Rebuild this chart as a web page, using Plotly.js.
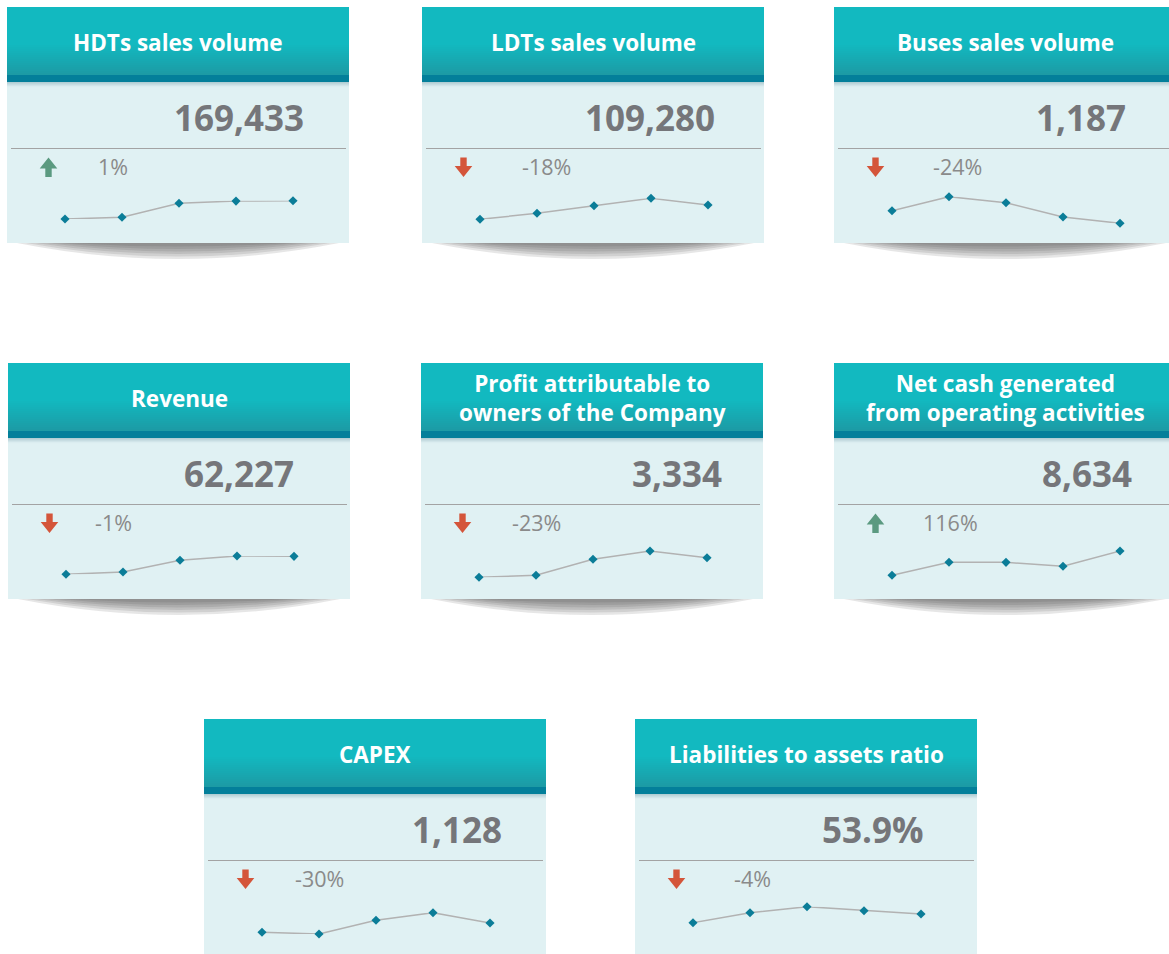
<!DOCTYPE html>
<html><head><meta charset="utf-8">
<script src="https://cdn.plot.ly/plotly-3.0.1.min.js"></script>
<style>html,body{margin:0;padding:0;background:#fff;}#chart{width:1169px;height:954px;}</style>
</head><body><div id="chart"></div>
<script>
// ---------------- DATA ----------------
const titles = [
  'HDTs sales volume',
  'LDTs sales volume',
  'Buses sales volume',
  'Revenue',
  'Profit attributable to<br>owners of the Company',
  'Net cash generated<br>from operating activities',
  'CAPEX',
  'Liabilities to assets ratio'
];
const headlines = ['169,433', '109,280', '1,187', '62,227', '3,334', '8,634', '1,128', '53.9%'];
const changes = [1, -18, -24, -1, -23, 116, -30, -4];   // percent change
const periods = [1, 2, 3, 4, 5];

const hdtSeries     = [96000, 102800, 159000, 167756, 169433];
const ldtSeries     = [58100, 79600, 106800, 133300, 109280];
const busSeries     = [1937, 2770, 2413, 1562, 1187];
const revenueSeries = [28000, 32400, 54700, 62856, 62227];
const profitSeries  = [420, 717, 3096, 4330, 3334];
const netCashSeries = [1271, 5240, 5190, 3997, 8634];
const capexSeries   = [692, 612, 1255, 1611, 1128];
const liabSeries    = [48.1, 54.8, 58.8, 56.1, 53.9];

const series = [hdtSeries, ldtSeries, busSeries, revenueSeries, profitSeries, netCashSeries, capexSeries, liabSeries];

// ---------------- LAYOUT (pixel geometry) ----------------
const W = 1169, H = 954;
const cardLeft = [7, 422, 834, 8, 421, 834, 204, 635];
const cardTop  = [7, 7, 7, 363, 363, 363, 719, 719];
const cardW = 342, cardH = 236, headH = 68, stripH = 7;
// sparkline vertical band (offset from card top: top of band, bottom of band)
const sparkBand = [[193.7,212],[191.3,212.3],[189.7,216.3],[193,211.3],[188,214.3],[188,212.3],[193.7,215],[187.7,203.7]];
const numRight = [299, 295, 294, 288, 303, 300, 300, 291];
const pctLeft  = [89, 98, 97, 85, 89, 87, 89, 97];

const teal = '#12b9c0', tealDark = '#1c9ba5', strip = '#037f9a', body = '#e0f1f3';

function hex2rgb(h){return [1,3,5].map(i=>parseInt(h.substr(i,2),16));}
function mix(a,b,t){const A=hex2rgb(a),B=hex2rgb(b);return 'rgb('+A.map((v,i)=>Math.round(v+(B[i]-v)*t)).join(',')+')';}

const shapes = [], annotations = [], traces = [];
const layout = {
  width: W, height: H,
  margin: {l:0, r:0, t:0, b:0},
  paper_bgcolor: '#ffffff', plot_bgcolor: 'rgba(0,0,0,0)',
  showlegend: false,
  xaxis: {range:[0,W], domain:[0,1], visible:false, fixedrange:true},
  yaxis: {range:[H,0], domain:[0,1], visible:false, fixedrange:true},
  shapes: shapes, annotations: annotations
};

function rect(x0,y0,x1,y1,color){
  shapes.push({type:'rect', xref:'x', yref:'y', x0:x0, x1:x1, y0:y0, y1:y1, fillcolor:color, line:{width:0}, layer:'below'});
}

for (let i = 0; i < titles.length; i++) {
  const L = cardLeft[i], T = cardTop[i], R = L + cardW, B = T + cardH;

  // shadow under the card
  const cx = (L + R) / 2;
  [[322,16],[304,13.5],[284,11],[262,8.5],[240,6],[218,3.5]].forEach(([w,d])=>{
    shapes.push({type:'path', xref:'x', yref:'y', layer:'below',
      path:`M ${cx-w/2},${B} Q ${cx},${B+2*d} ${cx+w/2},${B} Z`,
      fillcolor:'#3a3a3a', opacity:0.13, line:{width:0}});
  });

  // body
  rect(L, T+headH, R, B, body);
  // header base
  rect(L, T, R, T+headH, teal);
  // header gradient toward bottom
  const g0 = 38, steps = 15;
  for (let s = 0; s < steps; s++) {
    const y0 = T + g0 + s*(headH-g0)/steps, y1 = T + g0 + (s+1)*(headH-g0)/steps + 0.3;
    rect(L, y0, R, y1, mix(teal, tealDark, (s+1)/steps));
  }
  // dark strip
  rect(L, T+headH, R, T+headH+stripH, strip);
  // soft shadow under strip
  for (let s = 0; s < 5; s++) {
    rect(L, T+headH+stripH+s, R, T+headH+stripH+s+1.2, mix('#a8c6cd', body, (s+1)/5.5));
  }
  // divider line
  shapes.push({type:'line', xref:'x', yref:'y', x0:L+4, x1:L+339, y0:T+141.5, y1:T+141.5,
    line:{color:'#a3a3a3', width:1}, layer:'below'});

  // arrow
  const ax = L + 41.5, ay = T + 150.5;
  const up = changes[i] >= 0;
  let p;
  if (up) {
    p = `M ${ax},${ay} L ${ax+8.8},${ay+11} L ${ax+3.2},${ay+11} L ${ax+3.2},${ay+19.5} L ${ax-3.2},${ay+19.5} L ${ax-3.2},${ay+11} L ${ax-8.8},${ay+11} Z`;
  } else {
    p = `M ${ax-3.2},${ay} L ${ax+3.2},${ay} L ${ax+3.2},${ay+8.5} L ${ax+8.8},${ay+8.5} L ${ax},${ay+19.5} L ${ax-8.8},${ay+8.5} L ${ax-3.2},${ay+8.5} Z`;
  }
  shapes.push({type:'path', xref:'x', yref:'y', path:p, fillcolor: up ? '#5b9a80' : '#d4553a', line:{width:0}, layer:'below'});

  // title
  annotations.push({xref:'x', yref:'y', x:cx, y:T+35, text:titles[i], showarrow:false,
    xanchor:'center', yanchor:'middle', align:'center',
    font:{family:'Open Sans, Noto Sans, sans-serif', size:22.5, color:'#ffffff', weight:700}});
  // headline number
  annotations.push({xref:'x', yref:'y', x:L+numRight[i], y:T+110, text:headlines[i], showarrow:false,
    xanchor:'right', yanchor:'middle',
    font:{family:'Open Sans, Noto Sans, sans-serif', size:35, color:'#75767a', weight:700}});
  // change
  annotations.push({xref:'x', yref:'y', x:L+pctLeft[i], y:T+159, text:changes[i] + '%', showarrow:false,
    xanchor:'left', yanchor:'middle',
    font:{family:'Open Sans, Noto Sans, sans-serif', size:21.5, color:'#8a8a8a', weight:400}});

  // sparkline axes
  const k = i + 2;
  const vals = series[i];
  const lo = Math.min(...vals), hi = Math.max(...vals);
  layout['xaxis' + k] = {domain:[(L+58)/W, (L+286)/W], range:[periods[0], periods[periods.length-1]],
    visible:false, fixedrange:true, anchor:'y'+k};
  layout['yaxis' + k] = {domain:[1-(T+sparkBand[i][1])/H, 1-(T+sparkBand[i][0])/H], range:[lo, hi],
    visible:false, fixedrange:true, anchor:'x'+k};
  traces.push({x:periods, y:vals, xaxis:'x'+k, yaxis:'y'+k, type:'scatter', mode:'lines+markers',
    line:{color:'#b2b2b2', width:1.5}, marker:{symbol:'diamond', size:7, color:'#0b7d98'},
    cliponaxis:false, hoverinfo:'skip'});
}

Plotly.newPlot('chart', traces, layout, {staticPlot:true, displayModeBar:false});
</script>
</body></html>
